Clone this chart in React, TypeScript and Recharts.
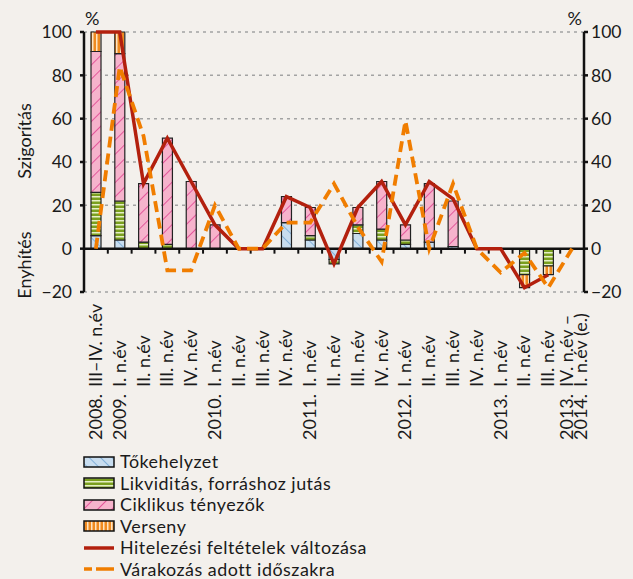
import React from "react"
import {
  ComposedChart,
  Bar,
  Line,
  XAxis,
  YAxis,
  CartesianGrid,
  ReferenceLine,
} from "recharts"

const FONT = "Lato, 'DejaVu Sans', sans-serif"
const INK = "#1a1a1a"

// x axis: year part and period part ("|" splits the last, two-line label)
const yearLabels = [
  "2008.", "2009.", "", "", "", "2010.", "", "", "", "2011.", "", "", "",
  "2012.", "", "", "", "2013.", "", "", "2013.|2014.",
]
const periodLabels = [
  "III–IV. n.év", "I. n.év", "II. n.év", "III. n.év", "IV. n.év",
  "I. n.év", "II. n.év", "III. n.év", "IV. n.év",
  "I. n.év", "II. n.év", "III. n.év", "IV. n.év",
  "I. n.év", "II. n.év", "III. n.év", "IV. n.év",
  "I. n.év", "II. n.év", "III. n.év", "IV. n.év –|I. n.év (e.)",
]

const seriesNames = [
  "Tőkehelyzet",
  "Likviditás, forráshoz jutás",
  "Ciklikus tényezők",
  "Verseny",
  "Hitelezési feltételek változása",
  "Várakozás adott időszakra",
]

// stacked factors (%)
const tokehelyzet = [6, 4, 0, 0, 0, 0, 0, 0, 12, 4, -5, 7, 4, 2, 3, 1, 0, 0, 0, 0, 0]
const likviditas = [20, 18, 3, 2, 0, 0, 0, 0, 0, 2, -2, 4, 5, 2, 0, 0, 0, 0, -12, -8, 0]
const ciklikus = [65, 68, 27, 49, 31, 11, 0, 0, 12, 13, 0, 8, 22, 7, 27, 21, 0, 0, 0, 0, 0]
const verseny = [9, 10, 0, 0, 0, 0, 0, 0, 0, 0, 0, 0, 0, 0, 0, 0, 0, 0, -6, -4, 0]

// lines (%)
const hitelezes = [100, 100, 30, 51, 31, 11, 0, 0, 24, 19, -7, 19, 31, 11, 31, 23, 0, 0, -18, -12, null]
const varakozas = [0, 84, 52, -10, -10, 20, 0, 0, 12, 12, 30, 10, -6, 59, 0, 30, 0, -11, -2, -18, 0]

const yTicks = [-20, 0, 20, 40, 60, 80, 100]

const data = periodLabels.map((p, i) => ({
  label: p,
  tok: tokehelyzet[i],
  likv: likviditas[i],
  cikl: ciklikus[i],
  vers: verseny[i],
  hit: hitelezes[i],
  var: varakozas[i],
}))

const fmt = (v: number) => (v < 0 ? `−${Math.abs(v)}` : `${v}`)

function Patterns({ p }: { p: string }) {
  return (
    <defs>
      <pattern id={`${p}blue`} width="8" height="8" patternUnits="userSpaceOnUse" patternTransform="rotate(-45)">
        <rect width="8" height="8" fill="#c8ddef" />
        <line x1="0" y1="0" x2="0" y2="8" stroke="#6da2d2" strokeWidth="1.5" />
      </pattern>
      <pattern id={`${p}green`} width="4" height="4" patternUnits="userSpaceOnUse">
        <rect width="4" height="4" fill="#7a9f1f" />
        <rect width="4" height="1.5" fill="#e6efc6" />
      </pattern>
      <pattern id={`${p}pink`} width="10" height="10" patternUnits="userSpaceOnUse" patternTransform="rotate(45)">
        <rect width="10" height="10" fill="#f6b3cc" />
        <line x1="0" y1="0" x2="0" y2="10" stroke="#df3f8e" strokeWidth="1.6" />
      </pattern>
      <pattern id={`${p}orange`} width="4" height="4" patternUnits="userSpaceOnUse">
        <rect width="4" height="4" fill="#ef8a20" />
        <rect width="1.5" height="4" fill="#fde4c2" />
      </pattern>
    </defs>
  )
}

function PeriodTick(props: any) {
  const { x, y, payload } = props
  const i = payload.index
  const years = yearLabels[i].split("|")
  const periods = periodLabels[i].split("|")
  const n = periods.length
  return (
    <g fontFamily={FONT} fontSize={18} fill={INK}>
      {periods.map((q, k) => {
        const bx = n === 1 ? x + 6 : x + 1 + k * 14
        return (
          <g key={k}>
            {years[k] ? (
              <text transform={`translate(${bx},${y + 148}) rotate(-90)`} textAnchor="start">
                {years[k]}
              </text>
            ) : null}
            <text transform={`translate(${bx},${y + 95}) rotate(-90)`} textAnchor="start">
              {q}
            </text>
          </g>
        )
      })}
    </g>
  )
}

const leftLabel = (props: any) => {
  const vb = props.viewBox
  return (
    <g fontFamily={FONT} fontSize={18} fill={INK}>
      <text x={vb.x + vb.width + 1} y={vb.y - 7}>%</text>
      <text transform={`translate(${vb.x + 7},${vb.y + 109}) rotate(-90)`} textAnchor="middle">
        Szigorítás
      </text>
      <text transform={`translate(${vb.x + 7},${vb.y + 233}) rotate(-90)`} textAnchor="middle">
        Enyhítés
      </text>
    </g>
  )
}

const rightLabel = (props: any) => {
  const vb = props.viewBox
  return (
    <text x={vb.x - 2} y={vb.y - 7} textAnchor="end" fontFamily={FONT} fontSize={18} fill={INK}>
      %
    </text>
  )
}

// zero line with small ticks between the periods
const zeroLine = (props: any) => {
  const { x1, x2, y1 } = props
  const n = periodLabels.length
  const step = (x2 - x1) / n
  return (
    <g>
      <line x1={x1} x2={x2} y1={y1} y2={y1} stroke="#111" strokeWidth={2.5} />
      {Array.from({ length: n - 1 }, (_, k) => (
        <line
          key={k}
          x1={x1 + step * (k + 1)}
          x2={x1 + step * (k + 1)}
          y1={y1}
          y2={y1 + 5}
          stroke="#111"
          strokeWidth={2}
        />
      ))}
    </g>
  )
}

const legendKinds = ["blue", "green", "pink", "orange", "red", "dash"]

function LegendSwatch({ kind }: { kind: string }) {
  return (
    <svg width={34} height={20} style={{ flex: "none" }}>
      <Patterns p="lg-" />
      {kind === "red" ? (
        <line x1={1} x2={31} y1={10} y2={10} stroke="#b3200e" strokeWidth={3.5} />
      ) : kind === "dash" ? (
        <line x1={1} x2={31} y1={10} y2={10} stroke="#f07d00" strokeWidth={3.5} strokeDasharray="8 4 18 4" />
      ) : (
        <rect x={1} y={5} width={30} height={10} fill={`url(#lg-${kind})`} stroke="#111" strokeWidth={1.5} />
      )}
    </svg>
  )
}

export default function App() {
  return (
    <div
      style={{
        position: "absolute",
        left: 0,
        top: 0,
        width: 633,
        height: 579,
        overflow: "hidden",
        background: "#f3f0ec",
        fontFamily: FONT,
      }}
    >
      <ComposedChart
        width={633}
        height={453}
        data={data}
        stackOffset="sign"
        margin={{ top: 32, right: 0, left: 24, bottom: 0 }}
      >
        <Patterns p="ch-" />

        <CartesianGrid
          yAxisId="left"
          vertical={false}
          stroke="#a3a3a3"
          strokeWidth={1.5}
          strokeDasharray="3 4"
        />

        <XAxis
          dataKey="label"
          interval={0}
          tick={<PeriodTick />}
          tickLine={false}
          axisLine={false}
          tickSize={0}
          tickMargin={0}
          height={161}
        />

        <YAxis
          yAxisId="left"
          domain={[-20, 100]}
          ticks={yTicks}
          width={60}
          tickSize={4}
          tickMargin={8}
          stroke="#111"
          strokeWidth={2.5}
          tick={{ fontSize: 17.5, fill: INK, fontFamily: FONT, stroke: "none" }}
          tickFormatter={fmt}
          label={leftLabel}
        />
        <YAxis
          yAxisId="right"
          orientation="right"
          domain={[-20, 100]}
          ticks={yTicks}
          width={49}
          tickSize={4}
          tickMargin={3}
          stroke="#111"
          strokeWidth={2.5}
          tick={{ fontSize: 17.5, fill: INK, fontFamily: FONT, stroke: "none" }}
          tickFormatter={fmt}
          label={rightLabel}
        />

        <ReferenceLine yAxisId="left" y={0} shape={zeroLine} />

        <Bar yAxisId="left" dataKey="tok" name={seriesNames[0]} stackId="a" barSize={10} fill="url(#ch-blue)" stroke="#222" strokeWidth={1.2} isAnimationActive={false} />
        <Bar yAxisId="left" dataKey="likv" name={seriesNames[1]} stackId="a" barSize={10} fill="url(#ch-green)" stroke="#222" strokeWidth={1.2} isAnimationActive={false} />
        <Bar yAxisId="left" dataKey="cikl" name={seriesNames[2]} stackId="a" barSize={10} fill="url(#ch-pink)" stroke="#222" strokeWidth={1.2} isAnimationActive={false} />
        <Bar yAxisId="left" dataKey="vers" name={seriesNames[3]} stackId="a" barSize={10} fill="url(#ch-orange)" stroke="#222" strokeWidth={1.2} isAnimationActive={false} />

        <Line
          yAxisId="left"
          type="linear"
          dataKey="hit"
          name={seriesNames[4]}
          stroke="#b3200e"
          strokeWidth={3.5}
          dot={false}
          isAnimationActive={false}
        />
        {/* same domain as the left axis, drawn against the right one */}
        <Line
          yAxisId="right"
          type="linear"
          dataKey="var"
          name={seriesNames[5]}
          stroke="#f07d00"
          strokeWidth={3.8}
          strokeDasharray="11 6"
          dot={false}
          isAnimationActive={false}
        />
      </ComposedChart>

      {/* Legend */}
      <div style={{ position: "absolute", left: 83, top: 451, fontSize: 17.9, letterSpacing: 0.5, color: INK }}>
        {seriesNames.map((name, i) => (
          <div key={name} style={{ display: "flex", alignItems: "center", height: 21.5 }}>
            <LegendSwatch kind={legendKinds[i]} />
            <span style={{ marginLeft: 3, whiteSpace: "nowrap", lineHeight: "21.5px" }}>{name}</span>
          </div>
        ))}
      </div>
    </div>
  )
}
